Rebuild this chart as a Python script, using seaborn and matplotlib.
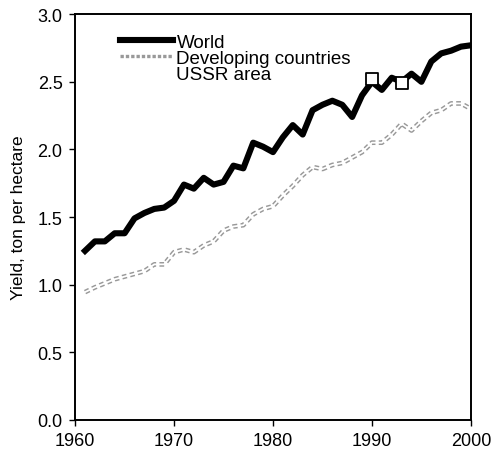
import numpy as np
import pandas as pd
import seaborn as sns
import matplotlib.pyplot as plt
from matplotlib.lines import Line2D

YEARS = list(range(1961, 2001))

WORLD = [1.25, 1.32, 1.32, 1.38, 1.38, 1.49, 1.53, 1.56, 1.57, 1.62,
         1.74, 1.71, 1.79, 1.74, 1.76, 1.88, 1.86, 2.05, 2.02, 1.98,
         2.09, 2.18, 2.11, 2.29, 2.33, 2.36, 2.33, 2.24, 2.40, 2.50,
         2.44, 2.53, 2.50, 2.56, 2.50, 2.65, 2.71, 2.73, 2.76, 2.77]

DEVELOPING = [0.945, 0.98, 1.01, 1.04, 1.06, 1.08, 1.10, 1.15, 1.15, 1.24,
              1.26, 1.24, 1.29, 1.32, 1.40, 1.43, 1.44, 1.52, 1.56, 1.58,
              1.66, 1.73, 1.81, 1.87, 1.855, 1.885, 1.90, 1.94, 1.98, 2.05,
              2.05, 2.11, 2.19, 2.14, 2.21, 2.27, 2.29, 2.34, 2.34, 2.30]

USSR_YEARS = [1990, 1993]
USSR = [2.52, 2.49]

plt.rcParams['font.family'] = ['Liberation Sans', 'DejaVu Sans']

df = pd.DataFrame({'year': YEARS, 'world': WORLD, 'developing': DEVELOPING})
ussr_df = pd.DataFrame({'year': USSR_YEARS, 'ussr': USSR})

fig, ax = plt.subplots(figsize=(4.91, 4.60), dpi=100)
fig.subplots_adjust(left=0.153, right=0.959, bottom=0.085, top=0.967)

# developing countries: speckled grey band (outlined line with white core)
sns.lineplot(x='year', y='developing', data=df, ax=ax, color='#999999', lw=3.4,
             linestyle=(0, (1.0, 0.7)), legend=False)
sns.lineplot(x='year', y='developing', data=df, ax=ax, color='white', lw=1.3, legend=False)
sns.lineplot(x='year', y='world', data=df, ax=ax, color='black', lw=4.4, legend=False)
sns.scatterplot(x='year', y='ussr', data=ussr_df, ax=ax, marker='s', s=80,
                facecolor='white', edgecolor='black', linewidth=1.3, zorder=5, legend=False)

ax.set_xlim(1960, 2000)
ax.set_ylim(0, 3.0)
ax.set_xticks([1960, 1970, 1980, 1990, 2000])
ax.set_yticks(np.arange(0, 3.01, 0.5))
ax.set_yticklabels(['{:.1f}'.format(v) for v in np.arange(0, 3.01, 0.5)])
ax.set_xlabel('')
ax.set_ylabel('Yield, ton per hectare', fontsize=12.5, labelpad=8)
ax.tick_params(direction='out', length=4, width=1, labelsize=13, color='black', pad=5)
for sp in ax.spines.values():
    sp.set_linewidth(1.4)
    sp.set_color('black')

dev_handle = Line2D([], [], color='#999999', lw=2.4, linestyle=(0, (1, 0.6)))
handles = [Line2D([], [], color='black', lw=4.4), dev_handle,
           Line2D([], [], color='none')]
ax.legend(handles, ['World', 'Developing countries', 'USSR area'],
          loc='upper left', bbox_to_anchor=(0.095, 0.97), frameon=False,
          fontsize=13.5, handlelength=2.8, handletextpad=0.2, labelspacing=-0.07,
          borderaxespad=0)

plt.savefig('out.png', dpi=100)
plt.close()
